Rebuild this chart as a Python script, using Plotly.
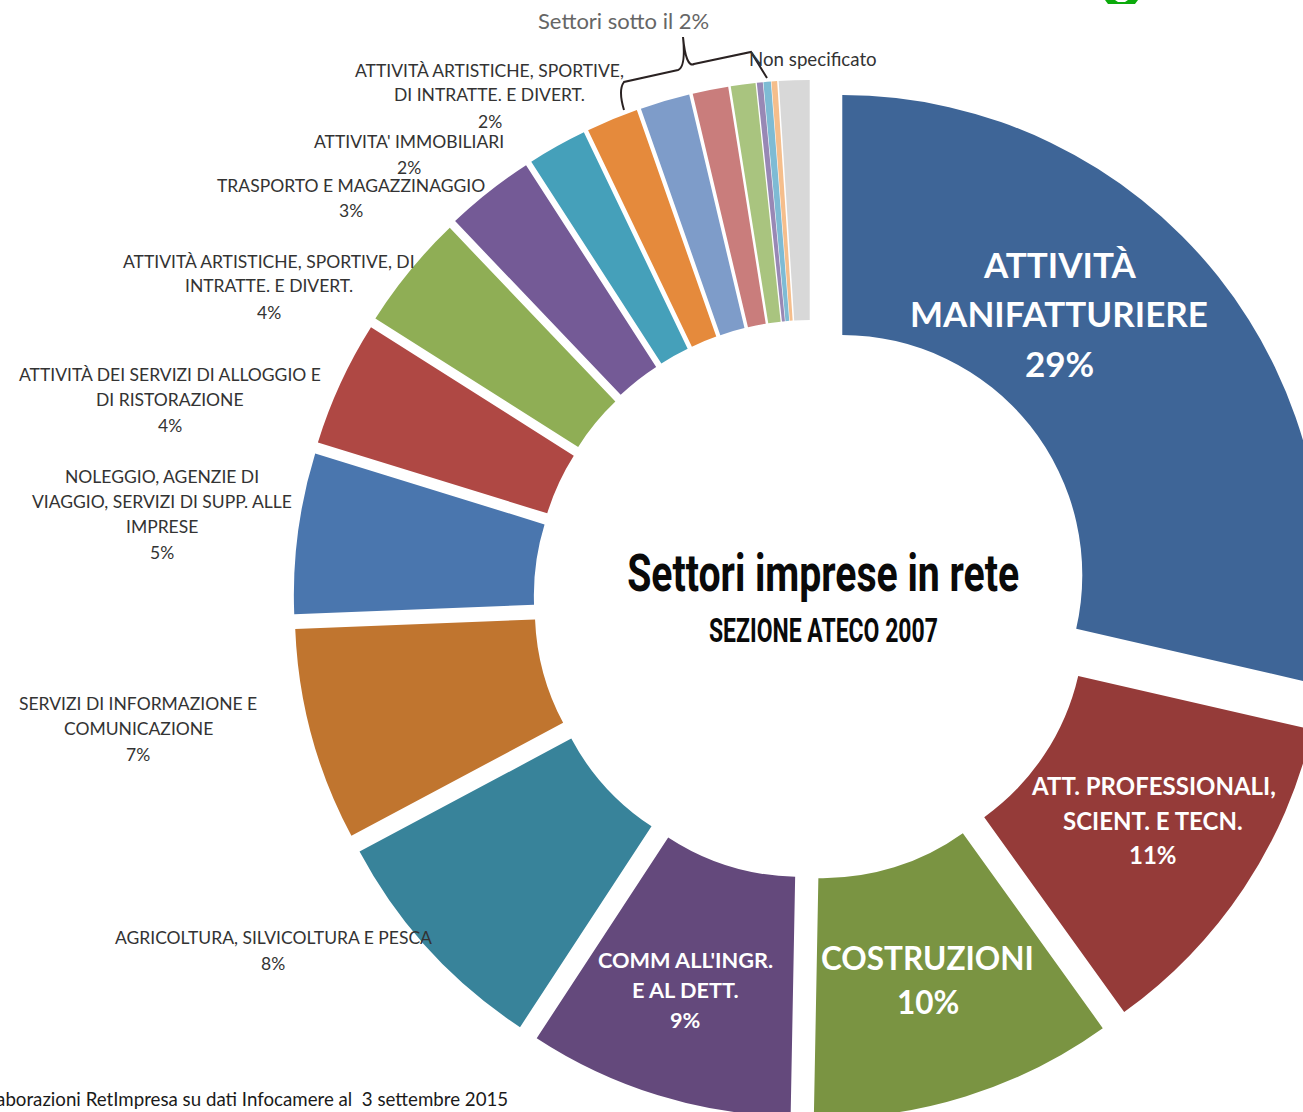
import plotly.graph_objects as go

# ---- data -------------------------------------------------------------
categories = [
    "ATTIVITÀ MANIFATTURIERE", "ATT. PROFESSIONALI, SCIENT. E TECN.", "COSTRUZIONI",
    "COMM ALL'INGR. E AL DETT.", "AGRICOLTURA, SILVICOLTURA E PESCA",
    "SERVIZI DI INFORMAZIONE E COMUNICAZIONE",
    "NOLEGGIO, AGENZIE DI VIAGGIO, SERVIZI DI SUPP. ALLE IMPRESE",
    "ATTIVITÀ DEI SERVIZI DI ALLOGGIO E DI RISTORAZIONE",
    "ATTIVITÀ ARTISTICHE, SPORTIVE, DI INTRATTE. E DIVERT.",
    "TRASPORTO E MAGAZZINAGGIO", "ATTIVITA' IMMOBILIARI",
    "ATTIVITÀ ARTISTICHE, SPORTIVE, DI INTRATTE. E DIVERT. (2%)",
    "Settore sotto il 2% A", "Settore sotto il 2% B", "Settore sotto il 2% C",
    "Settore sotto il 2% D", "Settore sotto il 2% E", "Settore sotto il 2% F",
    "Non specificato",
]
values = [28.6, 11.5, 10.21, 8.93, 7.97, 7.17, 5.4, 4.22, 3.9, 3.0, 2.0, 1.75, 1.67, 1.2,
          0.83, 0.2, 0.25, 0.19, 1.03]
colors = ["#3E6597", "#953B39", "#7A9442", "#64497C", "#38839A", "#C0752F", "#4A76AE",
          "#AF4844", "#8FAE55", "#745A96", "#45A0BA", "#E58A3C", "#7E9CC9", "#C97D7C",
          "#A9C47F", "#9888B5", "#7EBBD4", "#F5BE8C", "#D8D8D8"]
pulls = [0.0833, 0.0833, 0.0833, 0.080, 0.079, 0.078, 0.078, 0.079, 0.081, 0.0833, 0.0833,
         0.0833, 0.0833, 0.0833, 0.0833, 0.0833, 0.0833, 0.0833, 0.0833]

dark_labels = [
    ("ATTIVITÀ ARTISTICHE, SPORTIVE,", 490, 70), ("DI INTRATTE. E DIVERT.", 490, 94), ("2%", 490, 121),
    ("ATTIVITA' IMMOBILIARI", 409, 142), ("2%", 409, 167),
    ("TRASPORTO E MAGAZZINAGGIO", 351, 185), ("3%", 351, 211),
    ("ATTIVITÀ ARTISTICHE, SPORTIVE, DI", 269, 261), ("INTRATTE. E DIVERT.", 269, 286), ("4%", 269, 312),
    ("ATTIVITÀ DEI SERVIZI DI ALLOGGIO E", 170, 374), ("DI RISTORAZIONE", 170, 399), ("4%", 170, 425),
    ("NOLEGGIO, AGENZIE DI", 162, 477), ("VIAGGIO, SERVIZI DI SUPP. ALLE", 162, 501),
    ("IMPRESE", 162, 526), ("5%", 162, 552),
    ("SERVIZI DI INFORMAZIONE E", 138, 703), ("COMUNICAZIONE", 138, 728), ("7%", 138, 754),
    ("AGRICOLTURA, SILVICOLTURA E PESCA", 273, 937), ("8%", 273, 963),
]
white_labels = [
    ("ATTIVITÀ", 1059, 264, 35), ("MANIFATTURIERE", 1059, 313, 35), ("29%", 1059, 363, 35),
    ("ATT. PROFESSIONALI,", 1153, 785, 24), ("SCIENT. E TECN.", 1153, 820, 24), ("11%", 1153, 854, 24),
    ("COSTRUZIONI", 928, 958, 31.5), ("10%", 928, 1002, 31.5),
    ("COMM ALL'INGR.", 685, 960, 21.7), ("E AL DETT.", 685, 990, 21.7), ("9%", 685, 1020, 21.7),
]

# ---- canvas (larger than the window: the picture is cropped on the right and bottom) ----
W, H = 1400, 1200
CX, CY, R_BOX = 811, 600, 520   # pie box centre and half-size, in pixels
BODY = "Lato"

def px(x):
    return x / W

def py(y):
    return 1 - y / H

fig = go.Figure(go.Pie(
    labels=categories, values=values, sort=False, direction="clockwise", rotation=0,
    hole=0.5, pull=pulls, textinfo="none", showlegend=False,
    marker=dict(colors=colors, line=dict(width=0)),
    domain=dict(x=[px(CX - R_BOX), px(CX + R_BOX)], y=[py(CY + R_BOX), py(CY - R_BOX)]),
))

def note(text, x, y, size, color, family=BODY, bold=False, xanchor="center"):
    if bold:
        text = f"<b>{text}</b>"
    fig.add_annotation(text=text, x=px(x), y=py(y), xref="paper", yref="paper",
                       showarrow=False, xanchor=xanchor, yanchor="middle",
                       font=dict(family=family, size=size, color=color))

for t, x, y in dark_labels:
    note(t, x, y, 17.5, "#333333")
for t, x, y, s in white_labels:
    note(t, x, y, s, "#ffffff", bold=True)

note("Settori sotto il 2%", 623, 20, 22, "#666666")
note("Non specificato", 813, 59, 18.7, "#333333")
note("Settori imprese in rete", 823, 574, 52, "#0a0a0a", family="Roboto", bold=True)
note("SEZIONE ATECO 2007", 823, 630, 34, "#0a0a0a", family="Roboto", bold=True)
note("Elaborazioni RetImpresa su dati Infocamere al&nbsp; 3 settembre 2015", 510, 1099, 18.7,
     "#1a1a1a", xanchor="right")

# curly bracket over the small sectors
def P(x, y):
    return f"{px(x):.5f},{py(y):.5f}"

d = (f"M {P(624, 110)} Q {P(618, 90)} {P(624, 82)} L {P(678, 70)} Q {P(686, 67)} {P(683, 37)} "
     f"Q {P(686, 68)} {P(694, 64)} L {P(751, 52)} L {P(767, 78)}")
fig.add_shape(type="path", path=d, xref="paper", yref="paper",
              line=dict(color="#2a2222", width=2))

# green mark cut by the top edge
blob = [(1105, 0), (1108, 4), (1135, 4), (1138, 0), (1128, 0), (1125, 2), (1118, 2), (1115, 0)]
d2 = "M " + " L ".join(P(x, y) for x, y in blob) + " Z"
fig.add_shape(type="path", path=d2, xref="paper", yref="paper",
              fillcolor="#0BAA0B", line=dict(width=0))

fig.update_layout(width=W, height=H, margin=dict(l=0, r=0, t=0, b=0),
                  paper_bgcolor="white", plot_bgcolor="white")

post = """
document.body.style.margin='0';
document.documentElement.style.overflow='hidden';
document.body.style.overflow='hidden';
var fit = {'Settori imprese in rete': 392, 'SEZIONE ATECO 2007': 229};
document.querySelectorAll('text.annotation-text').forEach(function (t) {
  var w = fit[t.textContent];
  if (w) {
    t.setAttribute('textLength', w);
    t.setAttribute('lengthAdjust', 'spacingAndGlyphs');
  }
});
"""
fig.write_html("out.html", config=dict(displayModeBar=False), post_script=post)
